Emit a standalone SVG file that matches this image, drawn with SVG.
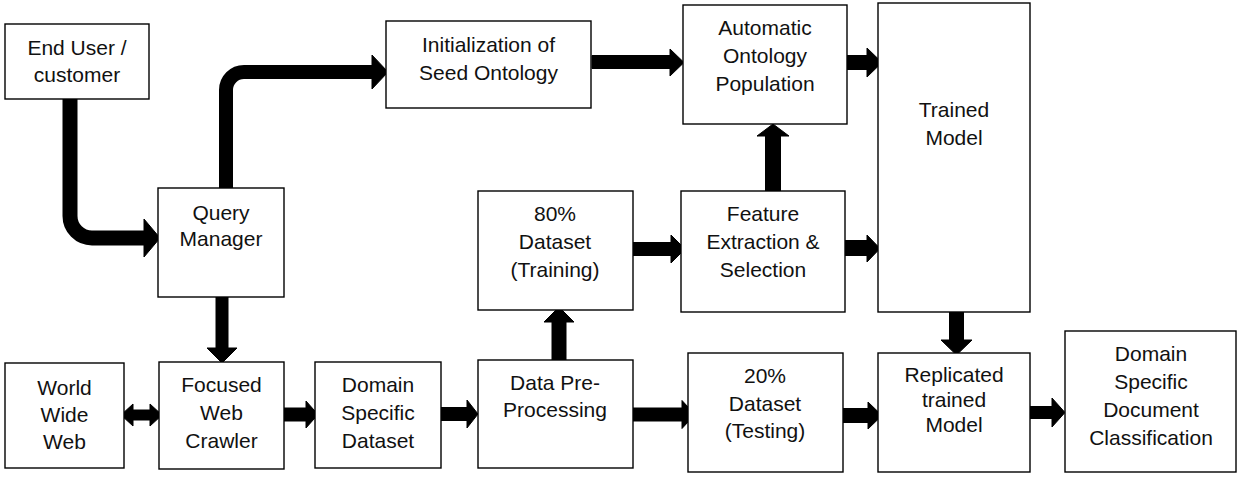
<svg xmlns="http://www.w3.org/2000/svg" width="1237" height="477" viewBox="0 0 1237 477">
  <style>
    .box { fill: #fff; stroke: #000; stroke-width: 1.4; }
    .lbl { font-family: "Liberation Sans", Arial, sans-serif; font-size: 21px; fill: #111; text-anchor: middle; }
    .arrow { fill: #000; stroke: #000; stroke-width: 1; stroke-linejoin: round; }
    .bend { fill: none; stroke: #000; stroke-width: 15; stroke-linejoin: round; }
  </style>
  <rect width="1237" height="477" fill="#fff"/>

  <!-- connectors -->
  <g id="connectors">
    <!-- End User -> Query Manager -->
    <path class="bend" d="M70,97 V216 A22,22 0 0 0 92,238 H146"/>
    <polygon class="arrow" points="144,219 160,238 144,257"/>
    <!-- Query Manager -> Initialization of Seed Ontology -->
    <path class="bend" d="M226,190 V90 A18,18 0 0 1 244,72 H374" style="stroke-width:14"/>
    <polygon class="arrow" points="372,55 388,72 372,89"/>
    <!-- Seed Ontology -> Automatic Ontology Population -->
    <polygon class="arrow" points="592,55.5 670,55.5 670,49 684,62.5 670,76 670,68.5 592,68.5"/>
    <!-- Automatic Ontology Population -> Trained Model -->
    <polygon class="arrow" points="847,55.5 867,55.5 867,48 882,62.5 867,77 867,69.5 847,69.5"/>
    <!-- Feature Extraction -> Automatic Ontology Population -->
    <polygon class="arrow" points="765.5,191 765.5,136 757,136 773,124 789,136 780.5,136 780.5,191"/>
    <!-- 80% Dataset -> Feature Extraction -->
    <polygon class="arrow" points="632,242.5 671,242.5 671,235 685,249 671,263 671,255.5 632,255.5"/>
    <!-- Feature Extraction -> Trained Model -->
    <polygon class="arrow" points="845,240.5 867,240.5 867,235 880,248.5 867,262 867,255.5 845,255.5"/>
    <!-- Data Pre-Processing -> 80% Dataset -->
    <polygon class="arrow" points="552,360 552,322 544,322 559,307 574,322 566,322 566,360"/>
    <!-- Data Pre-Processing -> 20% Dataset -->
    <polygon class="arrow" points="633,408 682,408 682,400.5 695,414.5 682,428.5 682,421 633,421"/>
    <!-- Domain Specific Dataset -> Data Pre-Processing -->
    <polygon class="arrow" points="441,407.5 467,407.5 467,400 478,414 467,428 467,420.5 441,420.5"/>
    <!-- 20% Dataset -> Replicated trained Model -->
    <polygon class="arrow" points="843,408.5 868,408.5 868,402 882,415.5 868,429 868,422.5 843,422.5"/>
    <!-- Trained Model -> Replicated trained Model -->
    <polygon class="arrow" points="949.5,312 949.5,340 941,340 956.5,355 972,340 963.5,340 963.5,312"/>
    <!-- Replicated trained Model -> Document Classification -->
    <polygon class="arrow" points="1030,406.5 1052,406.5 1052,398 1065,412.5 1052,427 1052,418.5 1030,418.5"/>
    <!-- Query Manager -> Focused Web Crawler -->
    <polygon class="arrow" points="216,297 216,348 207,348 222,363 237,348 228,348 228,297"/>
    <!-- World Wide Web <-> Focused Web Crawler -->
    <polygon class="arrow" points="121,415 133,404 133,410 150,410 150,404 162,415 150,426 150,420 133,420 133,426"/>
    <!-- Focused Web Crawler -> Domain Specific Dataset -->
    <polygon class="arrow" points="284,408 306,408 306,401 318,414.5 306,428 306,421 284,421"/>
  </g>

  <g id="end-user">
    <rect class="box" x="5" y="24" width="144" height="75"/>
    <text class="lbl" x="77" y="55">End User /</text>
    <text class="lbl" x="77" y="82">customer</text>
  </g>

  <g id="query-manager">
    <rect class="box" x="158" y="188" width="126" height="109"/>
    <text class="lbl" x="221" y="220">Query</text>
    <text class="lbl" x="221" y="246">Manager</text>
  </g>

  <g id="seed-ontology">
    <rect class="box" x="386" y="21" width="205" height="87"/>
    <text class="lbl" x="488.5" y="52">Initialization of</text>
    <text class="lbl" x="488.5" y="80">Seed Ontology</text>
  </g>

  <g id="ontology-population">
    <rect class="box" x="683" y="5" width="164" height="119"/>
    <text class="lbl" x="765" y="35">Automatic</text>
    <text class="lbl" x="765" y="63">Ontology</text>
    <text class="lbl" x="765" y="91">Population</text>
  </g>

  <g id="trained-model">
    <rect class="box" x="878" y="3" width="152" height="309"/>
    <text class="lbl" x="954" y="117">Trained</text>
    <text class="lbl" x="954" y="145">Model</text>
  </g>

  <g id="training-set">
    <rect class="box" x="478" y="191" width="155" height="119"/>
    <text class="lbl" x="555" y="221">80%</text>
    <text class="lbl" x="555" y="249">Dataset</text>
    <text class="lbl" x="555" y="277">(Training)</text>
  </g>

  <g id="feature-extraction">
    <rect class="box" x="681" y="191" width="164" height="121"/>
    <text class="lbl" x="763" y="221">Feature</text>
    <text class="lbl" x="763" y="249">Extraction &amp;</text>
    <text class="lbl" x="763" y="277">Selection</text>
  </g>

  <g id="world-wide-web">
    <rect class="box" x="5" y="363" width="119" height="105"/>
    <text class="lbl" x="64.5" y="395">World</text>
    <text class="lbl" x="64.5" y="422">Wide</text>
    <text class="lbl" x="64.5" y="449">Web</text>
  </g>

  <g id="web-crawler">
    <rect class="box" x="159" y="362" width="125" height="107"/>
    <text class="lbl" x="221.5" y="392">Focused</text>
    <text class="lbl" x="221.5" y="420">Web</text>
    <text class="lbl" x="221.5" y="448">Crawler</text>
  </g>

  <g id="domain-dataset">
    <rect class="box" x="315" y="362" width="126" height="106"/>
    <text class="lbl" x="378" y="392">Domain</text>
    <text class="lbl" x="378" y="420">Specific</text>
    <text class="lbl" x="378" y="448">Dataset</text>
  </g>

  <g id="preprocessing">
    <rect class="box" x="478" y="360" width="155" height="108"/>
    <text class="lbl" x="555" y="390">Data Pre-</text>
    <text class="lbl" x="555" y="417">Processing</text>
  </g>

  <g id="testing-set">
    <rect class="box" x="688" y="353" width="155" height="119"/>
    <text class="lbl" x="765" y="383">20%</text>
    <text class="lbl" x="765" y="411">Dataset</text>
    <text class="lbl" x="765" y="438">(Testing)</text>
  </g>

  <g id="replicated-model">
    <rect class="box" x="878" y="353" width="152" height="119"/>
    <text class="lbl" x="954" y="382">Replicated</text>
    <text class="lbl" x="954" y="407">trained</text>
    <text class="lbl" x="954" y="432">Model</text>
  </g>

  <g id="document-classification">
    <rect class="box" x="1065" y="331" width="171" height="141"/>
    <text class="lbl" x="1151" y="361">Domain</text>
    <text class="lbl" x="1151" y="389">Specific</text>
    <text class="lbl" x="1151" y="417">Document</text>
    <text class="lbl" x="1151" y="445">Classification</text>
  </g>
</svg>
